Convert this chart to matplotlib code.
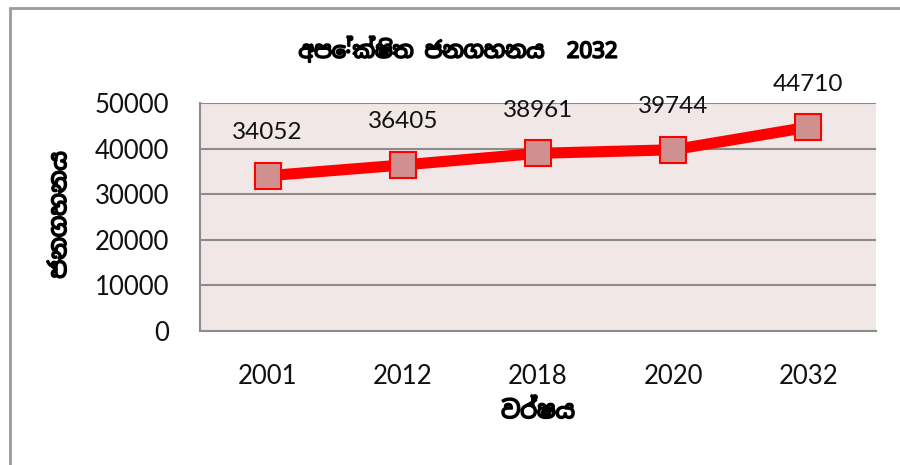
import matplotlib.pyplot as plt
import matplotlib.patheffects as pe
from matplotlib.patches import Rectangle

years = ['2001', '2012', '2018', '2020', '2032']
population = [34052, 36405, 38961, 39744, 44710]
yticks = [0, 10000, 20000, 30000, 40000, 50000]

title = 'අපේක්ෂිත ජනගහනය  2032'
xlabel = 'වර්ෂය'
ylabel = 'ජනගහනය'

sinhala = ['Noto Sans Sinhala', 'Iskoola Pota', 'Noto Sans', 'DejaVu Sans']
plt.rcParams['font.family'] = ['Lato', 'DejaVu Sans']
# the sinhala font has no bold face, so thicken it with a stroke
fake_bold = [pe.withStroke(linewidth=1.3, foreground='black')]

fig = plt.figure(figsize=(9, 4.65), dpi=100)
fig.patches.append(Rectangle((10 / 900, -0.1), 1.2, 1.1 - 8 / 465, transform=fig.transFigure,
                             fill=False, edgecolor='#9a9a9a', linewidth=2))

ax = fig.add_axes([200 / 900, 1 - 331 / 465, 676 / 900, 228 / 465])
ax.set_facecolor('#f2e7e7')
x = range(len(years))
ax.plot(x, population, color='#ff0000', linewidth=8, marker='s', markersize=19,
        markerfacecolor='#d09090', markeredgecolor='#ff0000', markeredgewidth=1.5, zorder=3)
for xi, v in zip(x, population):
    ax.annotate(str(v), (xi, v), xytext=(0, 31), textcoords='offset points',
                ha='center', va='center', fontsize=17.5, color='#111111')

ax.set_xlim(-0.5, len(years) - 0.5)
ax.set_ylim(0, 50000)
ax.set_yticks(yticks)
ax.set_xticks(list(x))
ax.set_xticklabels(years)
ax.grid(axis='y', color='#8c8c8c', linewidth=1.5)
ax.set_axisbelow(True)
ax.tick_params(length=0, labelsize=18.5, colors='#111111')
ax.tick_params(axis='x', pad=24)
ax.tick_params(axis='y', pad=22)
for s in ['top', 'right']:
    ax.spines[s].set_visible(False)
for s in ['left', 'bottom']:
    ax.spines[s].set_color('#8c8c8c')
    ax.spines[s].set_linewidth(1.5)

fig.text(458 / 900, 1 - 50 / 465, title, ha='center', va='center', fontsize=16,
         fontweight='bold', family=sinhala, path_effects=fake_bold)
fig.text(538 / 900, 1 - 412 / 465, xlabel, ha='center', va='center', fontsize=17,
         fontweight='bold', family=sinhala, path_effects=fake_bold)
fig.text(60 / 900, 1 - 215 / 465, ylabel, ha='center', va='center', fontsize=17,
         fontweight='bold', rotation=90, family=sinhala, path_effects=fake_bold)

fig.savefig('out.png', dpi=100)
